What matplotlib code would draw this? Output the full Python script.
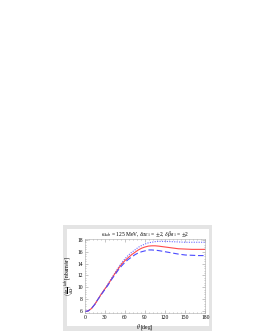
import numpy as np
import matplotlib
matplotlib.use("Agg")
import matplotlib.pyplot as plt
from matplotlib.patches import Rectangle
from matplotlib.ticker import MultipleLocator

plt.rcParams['font.family'] = ['Liberation Serif', 'DejaVu Serif']
plt.rcParams['mathtext.fontset'] = 'stix'

theta = [0, 5, 10, 15, 20, 25, 30, 35, 40, 45, 50, 55, 60, 65, 70, 75, 80, 85, 90,
         95, 100, 105, 110, 120, 130, 140, 150, 160, 170, 180]
central = [5.9, 6.0, 6.4, 7.1, 8.0, 8.9, 9.7, 10.5, 11.4, 12.3, 13.1, 13.9, 14.5, 15.0,
           15.5, 15.9, 16.3, 16.6, 16.8, 16.95, 17.0, 17.0, 16.95, 16.8, 16.65, 16.5,
           16.45, 16.4, 16.4, 16.4]
upper = [5.9, 6.0, 6.4, 7.1, 8.0, 8.9, 9.7, 10.6, 11.5, 12.4, 13.3, 14.1, 14.8, 15.4,
         15.9, 16.3, 16.75, 17.05, 17.3, 17.5, 17.6, 17.7, 17.75, 17.75, 17.7, 17.65,
         17.6, 17.6, 17.6, 17.6]
lower = [5.9, 6.0, 6.4, 7.1, 8.0, 8.8, 9.6, 10.4, 11.3, 12.1, 12.9, 13.6, 14.2, 14.7,
         15.1, 15.5, 15.8, 16.0, 16.15, 16.3, 16.3, 16.25, 16.2, 16.0, 15.8, 15.6,
         15.45, 15.4, 15.35, 15.35]

W, H = 258, 333
fig = plt.figure(figsize=(W / 100, H / 100), dpi=100)

# grey panel with white inset
fig.patches.append(Rectangle((63 / W, 1 - 331 / H), 149 / W, 106 / H,
                             transform=fig.transFigure, facecolor='#e4e4e4',
                             edgecolor='none', zorder=-10))
fig.patches.append(Rectangle((67 / W, 1 - 326 / H), 142 / W, 97 / H,
                             transform=fig.transFigure, facecolor='white',
                             edgecolor='none', zorder=-9))

ax = fig.add_axes([84.7 / W, 1 - 313.3 / H, 120.6 / W, 74 / H])
ax.set_zorder(5)
ax.patch.set_alpha(0)

ax.plot(theta, upper, color='#6a6aff', lw=0.8, ls=(0, (1, 1.2)))
ax.plot(theta, central, color='#ff4a4a', lw=0.8)
ax.plot(theta, lower, color='#4a4aff', lw=0.8, ls=(0, (5, 2.5)))

ax.set_xlim(0, 180)
ax.set_ylim(5.6, 18.1)
ax.xaxis.set_major_locator(MultipleLocator(30))
ax.xaxis.set_minor_locator(MultipleLocator(6))
ax.yaxis.set_major_locator(MultipleLocator(2))
ax.yaxis.set_minor_locator(MultipleLocator(0.4))
ax.tick_params(which='both', direction='in', top=True, right=True, color='#999999',
               width=0.4, labelsize=4, pad=1.5)
ax.tick_params(which='major', length=2)
ax.tick_params(which='minor', length=1)
for s in ax.spines.values():
    s.set_color('#aaaaaa')
    s.set_linewidth(0.4)

ax.set_xlabel(r'$\theta$ [deg]', fontsize=4, labelpad=1)
ax.set_ylabel(r'$\left(\frac{d\sigma}{d\Omega}\right)^{\rm lab}$ [nbarn/sr]', fontsize=4,
              labelpad=1)
ax.set_title(r'$\omega_{\rm lab}$ = 125 MeV, $\delta\alpha_{E1}$ = $\pm$2, '
             r'$\delta\beta_{M1}$ = $\pm$2', fontsize=4, pad=2)

fig.savefig('out.png', dpi=100)
